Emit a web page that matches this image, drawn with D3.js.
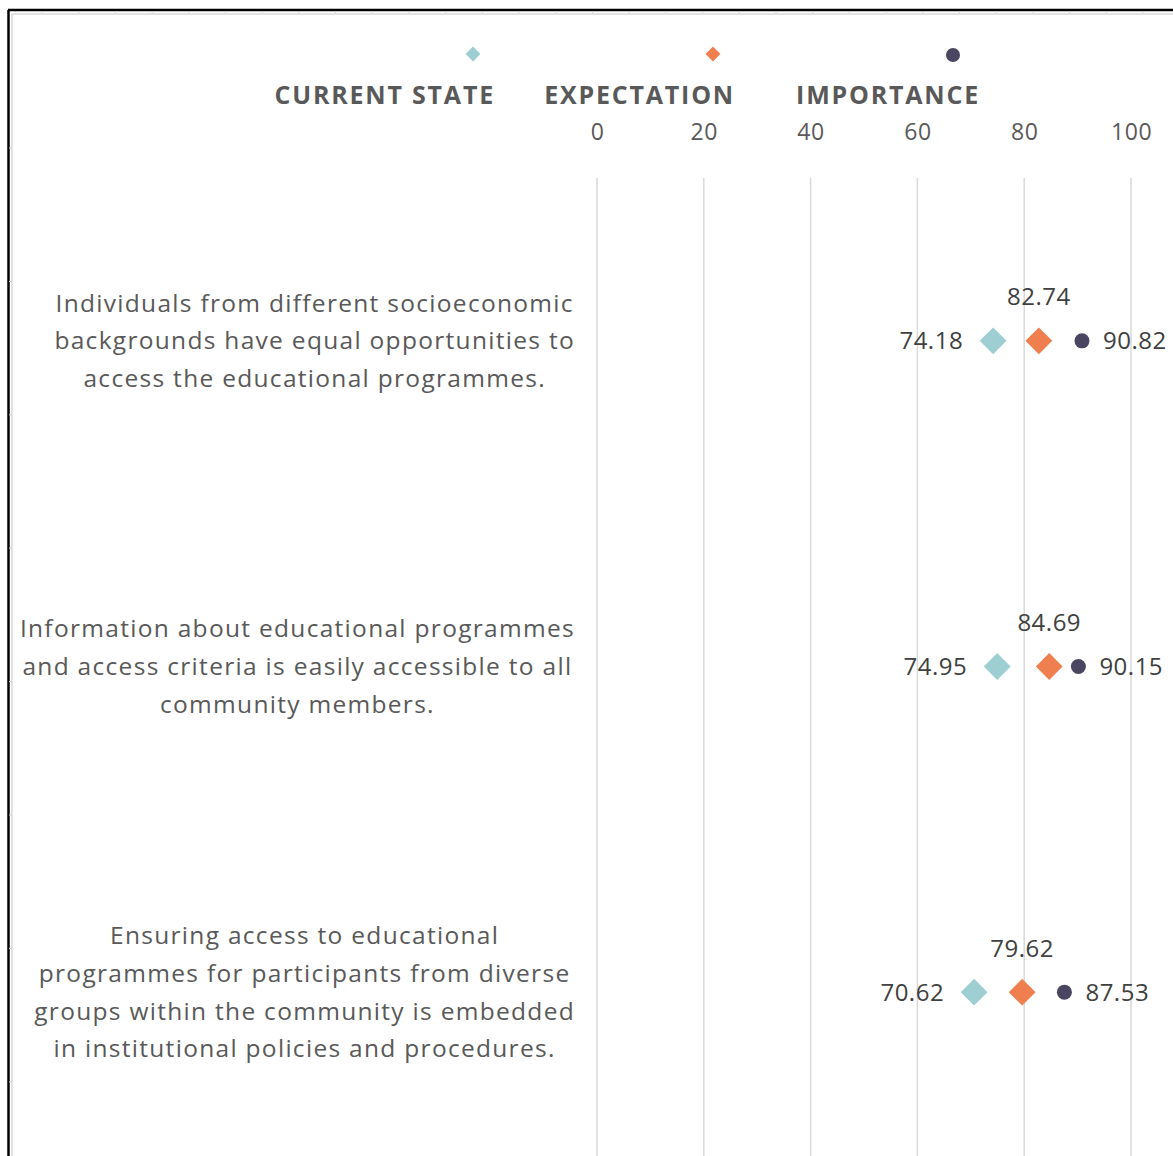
<!DOCTYPE html>
<html>
<head>
<meta charset="utf-8">
<script src="https://cdn.jsdelivr.net/npm/d3@7"></script>
<style>
  body { margin: 0; background: #fff; }
  svg { display: block; font-family: 'Open Sans', sans-serif; }
</style>
</head>
<body>
<div id="chart"></div>
<script>
// statements (each one split into the lines as shown)
const categories = [
  ['Individuals from different socioeconomic', 'backgrounds have equal opportunities to', 'access the educational programmes.'],
  ['Information about educational programmes', 'and access criteria is easily accessible to all', 'community members.'],
  ['Ensuring access to educational', 'programmes for participants from diverse', 'groups within the community is embedded', 'in institutional policies and procedures.']
];
const seriesNames = ['CURRENT STATE', 'EXPECTATION', 'IMPORTANCE'];
const currentState = [74.18, 74.95, 70.62];
const expectation = [82.74, 84.69, 79.62];
const importance = [90.82, 90.15, 87.53];
const tickValues = [0, 20, 40, 60, 80, 100];

const width = 1173, height = 1156;
const colors = { current: '#9dcfd2', expect: '#f07f4f', imp: '#4a4560' };

let svg = d3.select('#chart').append('svg')
    .attr('width', width)
    .attr('height', height);

// frame
svg.append('line').attr('x1', 8).attr('x2', width).attr('y1', 10).attr('y2', 10)
    .attr('stroke', '#000').attr('stroke-width', 2.5);
svg.append('line').attr('x1', 8.5).attr('x2', 8.5).attr('y1', 10).attr('y2', height)
    .attr('stroke', '#000').attr('stroke-width', 2.5);
svg.append('line').attr('x1', 12).attr('x2', width).attr('y1', 14).attr('y2', 14)
    .attr('stroke', '#d9d9d9').attr('stroke-width', 1.5);
svg.append('line').attr('x1', 12).attr('x2', 12).attr('y1', 14).attr('y2', height)
    .attr('stroke', '#d9d9d9').attr('stroke-width', 1.5);
// little ruler marks on the outer frame
svg.selectAll('.rt').data(d3.range(42, width, 36.7)).enter().append('line')
    .attr('x1', d => d).attr('x2', d => d).attr('y1', 11).attr('y2', 13)
    .attr('stroke', '#cfcfcf');
svg.selectAll('.rl').data(d3.range(148, height, 133.4)).enter().append('line')
    .attr('x1', 9).attr('x2', 12).attr('y1', d => d).attr('y2', d => d)
    .attr('stroke', '#cfcfcf');

let x = d3.scaleLinear().domain([0, 100]).range([597, 1131]);
let y = d3.scaleBand().domain(d3.range(categories.length)).range([178, 1155]);

// gridlines
svg.append('g').selectAll('line').data(tickValues).enter().append('line')
    .attr('x1', d => x(d)).attr('x2', d => x(d))
    .attr('y1', 178).attr('y2', height)
    .attr('stroke', '#d9d9d9').attr('stroke-width', 1.5);

// axis at top
let axis = svg.append('g')
    .attr('transform', 'translate(0,132)')
    .call(d3.axisTop(x).tickValues(tickValues).tickSize(0).tickPadding(0));
axis.select('.domain').remove();
axis.selectAll('text')
    .attr('dy', '0.35em')
    .attr('font-family', 'Open Sans, sans-serif')
    .attr('font-size', 23)
    .attr('letter-spacing', 0.6)
    .attr('fill', '#595959');

// legend
const legendRight = [495, 735, 980];
const legendMarkerX = [473, 713, 953];
let legend = svg.append('g');
seriesNames.forEach((name, i) => {
  legend.append('text')
      .attr('x', legendRight[i]).attr('y', 95).attr('dy', '0.35em')
      .attr('text-anchor', 'end')
      .attr('font-size', 25).attr('font-weight', 700)
      .attr('letter-spacing', 1.8)
      .attr('fill', '#595959')
      .text(name);
});
legend.append('path')
    .attr('d', d3.symbol(d3.symbolSquare, 110)())
    .attr('transform', 'translate(' + legendMarkerX[0] + ',54) rotate(45)')
    .attr('fill', colors.current);
legend.append('path')
    .attr('d', d3.symbol(d3.symbolSquare, 110)())
    .attr('transform', 'translate(' + legendMarkerX[1] + ',54) rotate(45)')
    .attr('fill', colors.expect);
legend.append('circle')
    .attr('cx', legendMarkerX[2]).attr('cy', 55).attr('r', 7)
    .attr('fill', colors.imp);

// category labels: lines centered within a box right-aligned at 574
const labelRight = 575, lineH = 37.7;
categories.forEach((lines, i) => {
  let cy = y(i) + y.bandwidth() / 2;
  let g = svg.append('g');
  let texts = lines.map((line, j) => g.append('text')
      .attr('y', cy + (j - (lines.length - 1) / 2) * lineH)
      .attr('dy', '0.35em')
      .attr('text-anchor', 'middle')
      .attr('font-size', 24.5)
      .attr('letter-spacing', 1.3)
      .attr('fill', '#595959')
      .text(line));
  let maxW = d3.max(texts, t => t.node().getComputedTextLength());
  texts.forEach(t => t.attr('x', labelRight - maxW / 2));
});

// markers + data labels
let rows = svg.append('g')
    .attr('font-size', 24)
    .attr('letter-spacing', 0.5)
    .attr('fill', '#404040');
categories.forEach((c, i) => {
  let cy = y(i) + y.bandwidth() / 2;
  // current state
  rows.append('path')
      .attr('d', d3.symbol(d3.symbolSquare, 360)())
      .attr('transform', 'translate(' + x(currentState[i]) + ',' + cy + ') rotate(45)')
      .attr('fill', colors.current);
  rows.append('text')
      .attr('x', x(currentState[i]) - 30).attr('y', cy).attr('dy', '0.35em')
      .attr('text-anchor', 'end')
      .text(currentState[i].toFixed(2));
  // expectation
  rows.append('path')
      .attr('d', d3.symbol(d3.symbolSquare, 360)())
      .attr('transform', 'translate(' + x(expectation[i]) + ',' + cy + ') rotate(45)')
      .attr('fill', colors.expect);
  rows.append('text')
      .attr('x', x(expectation[i])).attr('y', cy - 44).attr('dy', '0.35em')
      .attr('text-anchor', 'middle')
      .text(expectation[i].toFixed(2));
  // importance
  rows.append('circle')
      .attr('cx', x(importance[i])).attr('cy', cy).attr('r', 7.5)
      .attr('fill', colors.imp);
  rows.append('text')
      .attr('x', x(importance[i]) + 21).attr('y', cy).attr('dy', '0.35em')
      .attr('text-anchor', 'start')
      .text(importance[i].toFixed(2));
});
</script>
</body>
</html>
